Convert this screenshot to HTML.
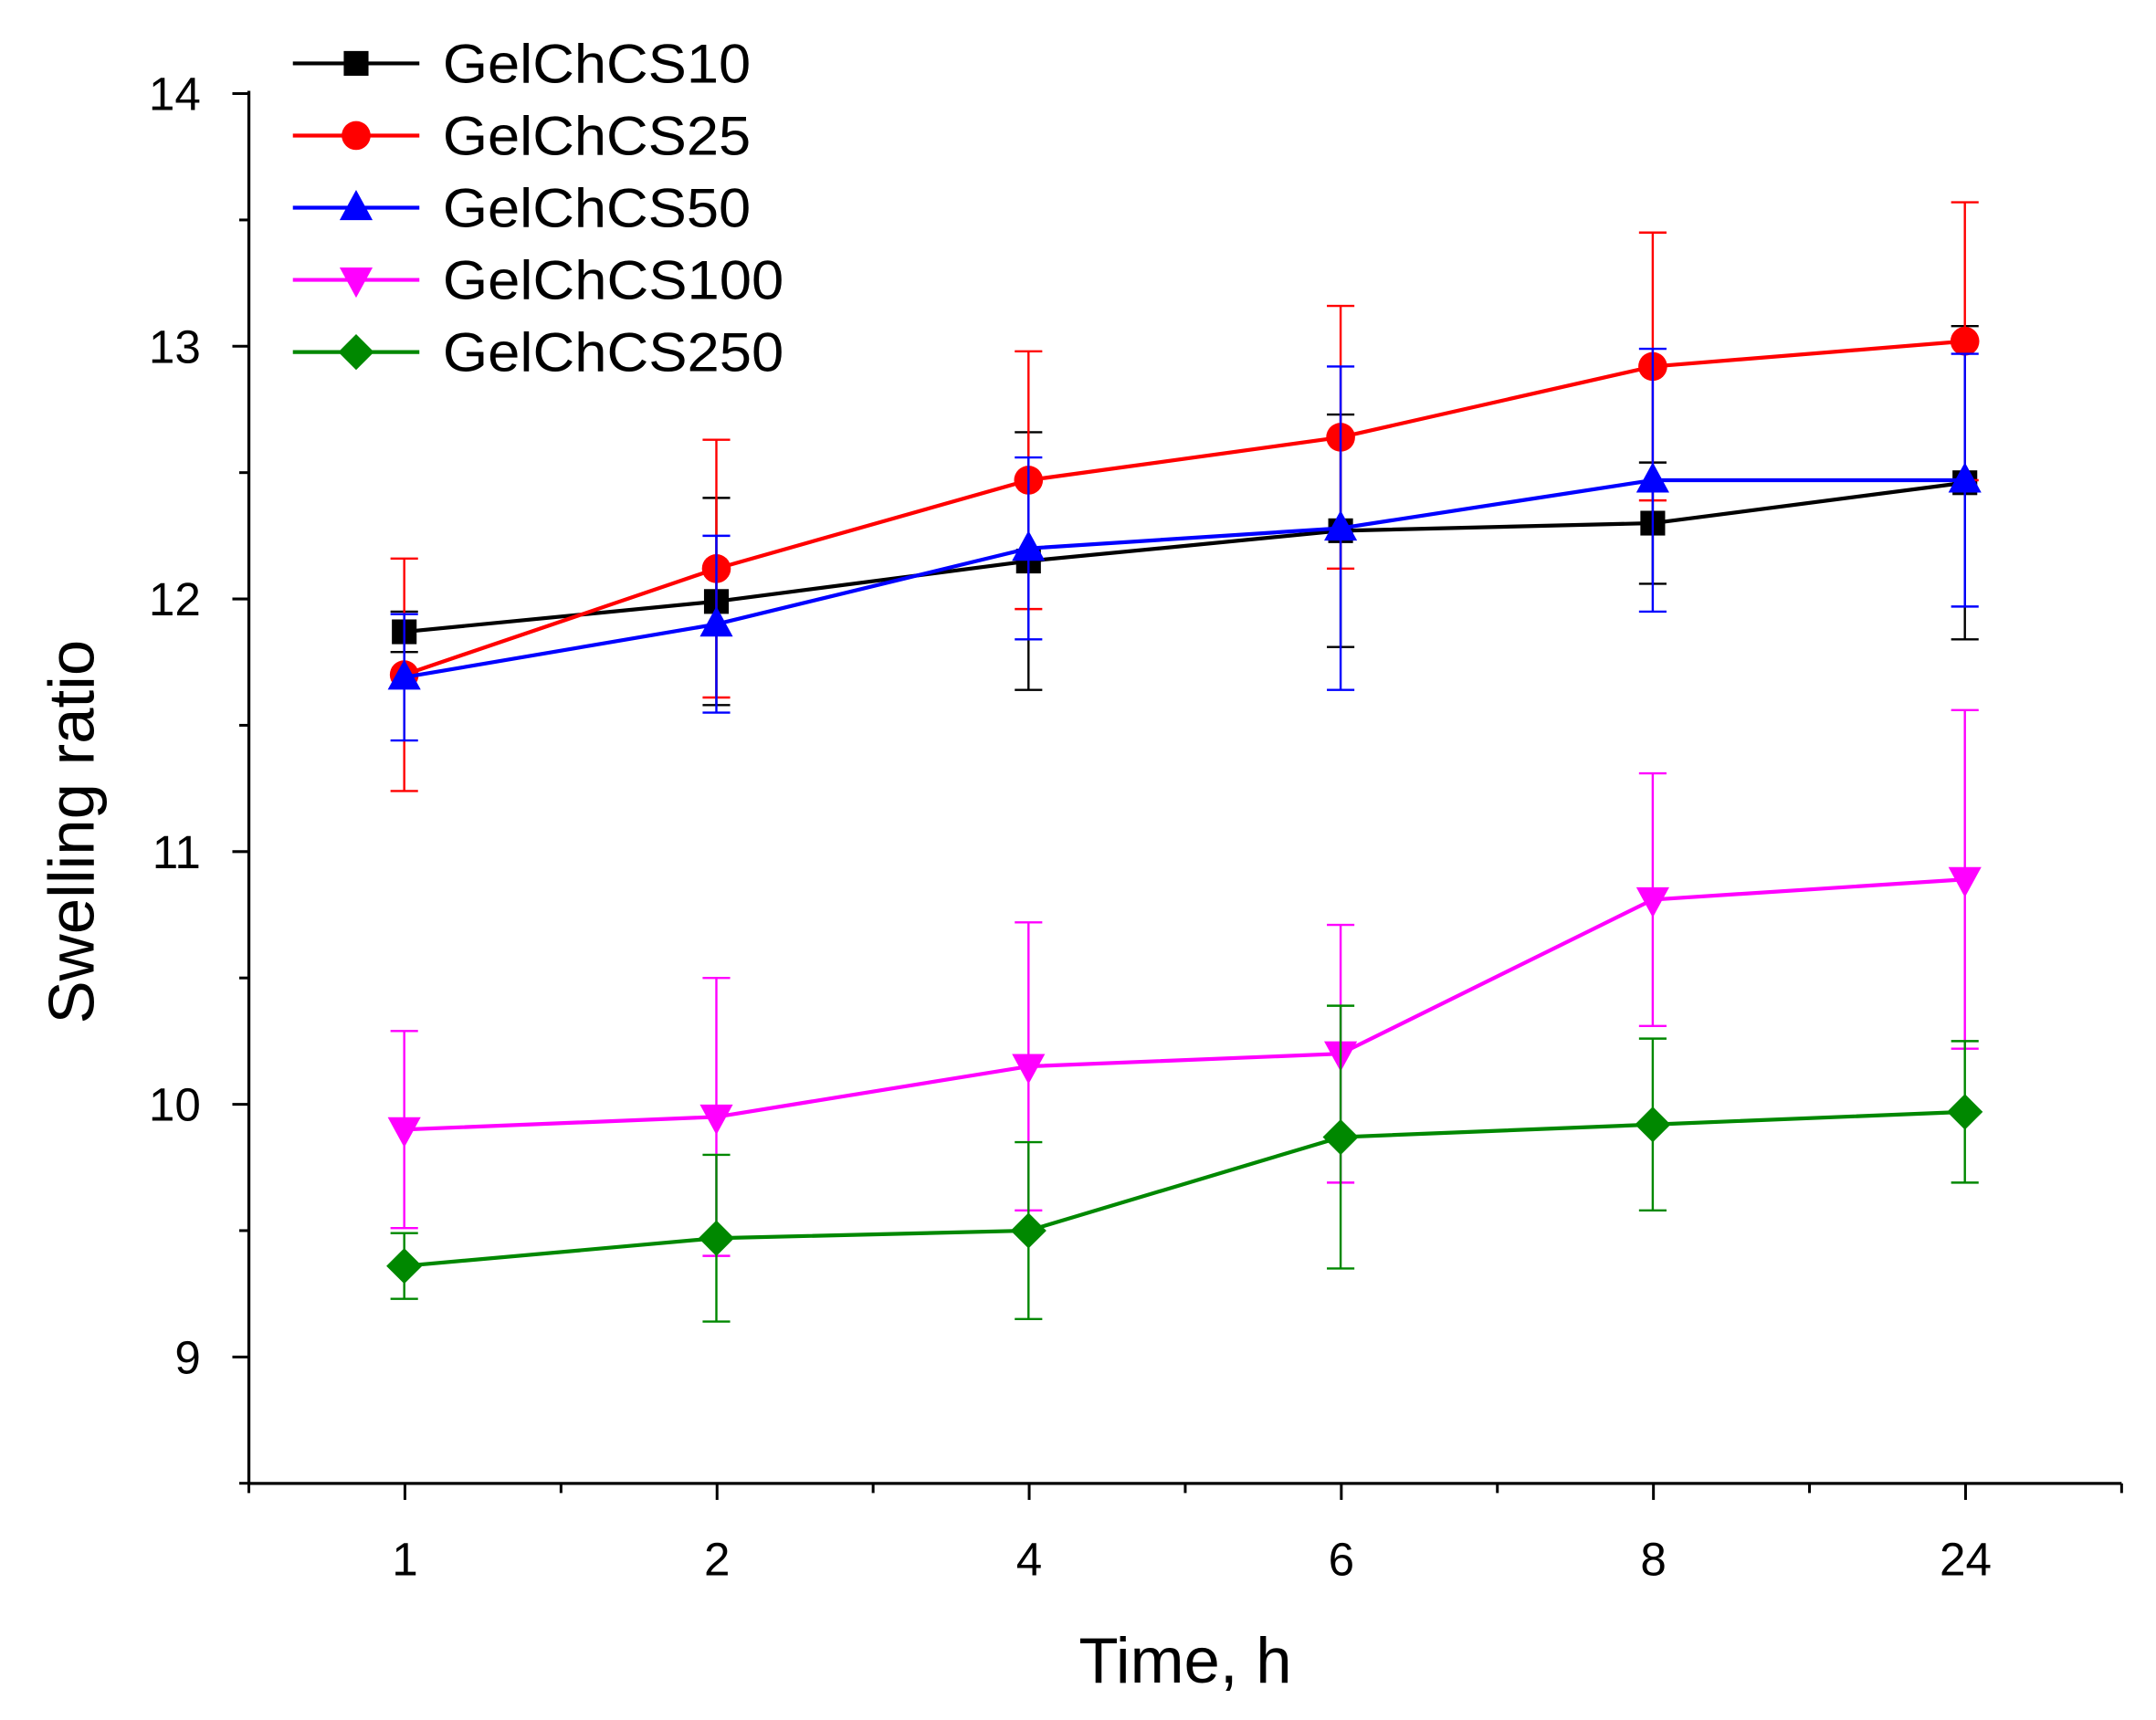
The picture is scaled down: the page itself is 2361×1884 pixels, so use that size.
<!DOCTYPE html>
<html><head><meta charset="utf-8"><style>html,body{margin:0;padding:0;background:#fff}svg{display:block}</style></head>
<body>
<svg id="s" width="2361" height="1884" viewBox="0 0 1568 1251" xmlns="http://www.w3.org/2000/svg" font-family="Liberation Sans, Arial, sans-serif"></svg>
<script>
const s=document.getElementById('s');let h='';
const X=[294,521,748,975,1202,1429];
const Y=v=>68+(14-v)*183.8;
h+='<rect x="0" y="0" width="1568" height="1251" fill="#fff"/>';
h+='<line x1="181" y1="66" x2="181" y2="1080" stroke="#000" stroke-width="2.2"/>';
h+='<line x1="180" y1="1079" x2="1543" y2="1079" stroke="#000" stroke-width="2.2"/>';
for(let v=8.5;v<=14.001;v+=0.5){const y=Y(v);const maj=Math.abs(v-Math.round(v))<1e-6;
 h+=`<line x1="${maj?169:174}" y1="${y}" x2="181" y2="${y}" stroke="#000" stroke-width="2"/>`;
 if(maj)h+=`<text x="146" y="${y+12}" font-size="34" text-anchor="end">${v}</text>`;}
const xl=['1','2','4','6','8','24'];
for(let i=0;i<=12;i++){const x=181+i*113.5;const maj=i%2==1;
 h+=`<line x1="${x}" y1="1079" x2="${x}" y2="${maj?1091:1086}" stroke="#000" stroke-width="2"/>`;
 if(maj)h+=`<text x="${x}" y="1146" font-size="34" text-anchor="middle">${xl[(i-1)/2]}</text>`;}
h+='<text x="862" y="1224" font-size="47" text-anchor="middle">Time, h</text>';
h+='<text transform="translate(68,605) rotate(-90)" font-size="47" text-anchor="middle">Swelling ratio</text>';
const S=[
['#000','sq',[11.87,11.99,12.15,12.27,12.30,12.46],[0.08,0.41,0.51,0.46,0.24,0.62]],
['#f00','ci',[11.70,12.12,12.47,12.64,12.92,13.02],[0.46,0.51,0.51,0.52,0.53,0.55]],
['#00f','up',[11.69,11.90,12.20,12.28,12.47,12.47],[0.25,0.35,0.36,0.64,0.52,0.50]],
['#f0f','dn',[9.90,9.95,10.15,10.20,10.81,10.89],[0.39,0.55,0.57,0.51,0.50,0.67]],
['#080','di',[9.36,9.47,9.50,9.87,9.92,9.97],[0.13,0.33,0.35,0.52,0.34,0.28]]];
const names=['GelChCS10','GelChCS25','GelChCS50','GelChCS100','GelChCS250'];
function mk(t,x,y,c){
 if(t=='sq')return `<rect x="${x-9}" y="${y-9}" width="18" height="18" fill="${c}"/>`;
 if(t=='ci')return `<circle cx="${x}" cy="${y}" r="10.5" fill="${c}"/>`;
 if(t=='up')return `<polygon points="${x},${y-13} ${x-12},${y+9} ${x+12},${y+9}" fill="${c}"/>`;
 if(t=='dn')return `<polygon points="${x},${y+13} ${x-12},${y-9} ${x+12},${y-9}" fill="${c}"/>`;
 return `<polygon points="${x},${y-13} ${x+13},${y} ${x},${y+13} ${x-13},${y}" fill="${c}"/>`;}
S.forEach(([c,t,v,e])=>{
 v.forEach((val,i)=>{const x=X[i],t1=Y(val+e[i]),b=Y(val-e[i]);
  h+=`<path d="M${x},${t1}V${b}M${x-10},${t1}H${x+10}M${x-10},${b}H${x+10}" stroke="${c}" stroke-width="1.6" fill="none"/>`;});
 h+=`<polyline points="${v.map((val,i)=>X[i]+','+Y(val)).join(' ')}" stroke="${c}" stroke-width="2.8" fill="none"/>`;
 v.forEach((val,i)=>{h+=mk(t,X[i],Y(val),c);});
});
S.forEach(([c,t],k)=>{const y=46+k*52.5;
 h+=`<line x1="213" y1="${y}" x2="305" y2="${y}" stroke="${c}" stroke-width="2.8"/>`+mk(t,259,y,c);
 h+=`<text x="322" y="${y+14}" font-size="40" textLength="${[224,224,224,248,248][k]}" lengthAdjust="spacingAndGlyphs">${names[k]}</text>`;});
s.innerHTML=h;
</script>
</body></html>
